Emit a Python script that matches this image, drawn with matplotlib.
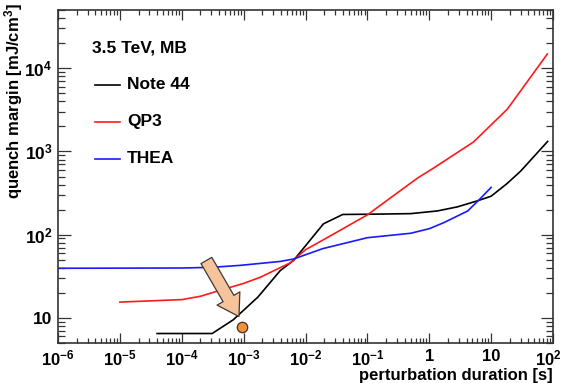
import matplotlib
matplotlib.use('Agg')
import matplotlib.pyplot as plt
import matplotlib.transforms as mtransforms

plt.rcParams['font.family'] = ['Liberation Sans', 'DejaVu Sans']
plt.rcParams['font.weight'] = 'bold'
plt.rcParams['mathtext.fontset'] = 'custom'
plt.rcParams['mathtext.rm'] = 'Liberation Sans:bold'
plt.rcParams['mathtext.bf'] = 'Liberation Sans:bold'
plt.rcParams['mathtext.default'] = 'rm'

# curves (duration in s, margin in mJ/cm3)
note44_x = [4e-5, 3.1e-4, 6.8e-4, 1.7e-3, 3.9e-3, 6.4e-3, 0.0195, 0.04, 0.1, 0.5, 1.36, 2.86, 6.0, 10, 18, 30, 82]
note44_y = [6.5, 6.5, 9.5, 17.8, 37, 49, 135, 175, 176, 179, 193, 216, 255, 290, 410, 580, 1320]

qp3_x = [1e-5, 1e-4, 2e-4, 4.2e-4, 1e-3, 1.86e-3, 5.7e-3, 0.01, 0.019, 0.1, 0.235, 0.65, 1.17, 5.2, 18.4, 81]
qp3_y = [15.5, 16.6, 18.2, 21.5, 26, 30.8, 46, 66, 86, 173, 276, 480, 630, 1300, 3240, 14800]

thea_x = [1e-6, 1e-4, 3e-4, 8.8e-4, 3.9e-3, 6.4e-3, 0.019, 0.1, 0.5, 1.0, 1.7, 4.2, 6.8, 10]
thea_y = [39.5, 39.8, 40.5, 42.8, 47.7, 51, 68, 92, 104, 118, 139, 193, 275, 370]

series_names = ['Note 44', 'QP3', 'THEA']
series_colors = ['black', '#ff1a1a', '#1a1aff']

# arrow and measured point
arrow_from = (2.5e-4, 49)
arrow_to = (8.4e-4, 10.4)
point_x = [9.5e-4]
point_y = [7.8]

x_ticks = [1e-6, 1e-5, 1e-4, 1e-3, 1e-2, 1e-1, 1, 10, 100]
x_ticklabels = ['$10^{-6}$', '$10^{-5}$', '$10^{-4}$', '$10^{-3}$', '$10^{-2}$',
                '$10^{-1}$', '1', '10', '$10^{2}$']
y_ticks = [10, 100, 1000, 10000]
y_ticklabels = ['10', '$10^{2}$', '$10^{3}$', '$10^{4}$']

fig = plt.figure(figsize=(5.63, 3.83), dpi=100)
ax = fig.add_axes([58 / 563, 1 - 343 / 383, 495 / 563, 333 / 383])

for xs, ys, c in zip([note44_x, qp3_x, thea_x], [note44_y, qp3_y, thea_y], series_colors):
    ax.plot(xs, ys, color=c, lw=1.2)

ax.annotate('', xy=arrow_to, xytext=arrow_from,
            arrowprops=dict(arrowstyle='simple,head_width=0.95,head_length=0.75,tail_width=0.45',
                            mutation_scale=20, fc='#f6c39a', ec='#3a3a3a', lw=0.9,
                            shrinkA=0, shrinkB=0))
ax.plot(point_x, point_y, 'o', ms=7.5, mfc='#f0913d', mec='#4a3020', mew=0.9)

ax.set_xscale('log')
ax.set_yscale('log')
ax.set_xlim(1e-6, 100)
ax.set_ylim(5, 50000)
ax.set_xticks(x_ticks)
ax.set_xticklabels(x_ticklabels)
ax.set_yticks(y_ticks)
ax.set_yticklabels(y_ticklabels)

ax.tick_params(which='both', direction='in', top=True, right=True, color='#333333', width=0.9)
ax.tick_params(axis='x', which='major', length=7, pad=4, labelsize=12)
ax.tick_params(axis='x', which='minor', length=3.5)
ax.tick_params(axis='y', which='major', length=9, pad=4, labelsize=12.5)
ax.tick_params(axis='y', which='minor', length=5)
for s in ax.spines.values():
    s.set_color('#333333')
    s.set_linewidth(1.2)

# nudge last x label so it stays inside the figure
last = ax.get_xticklabels()[-1]
last.set_transform(last.get_transform() + mtransforms.ScaledTranslation(-5 / 100, 0, fig.dpi_scale_trans))

ax.set_xlabel('perturbation duration [s]', fontsize=12, fontweight='bold', loc='right')
ax.xaxis.set_label_coords(1.0, -0.075)
ax.set_ylabel('quench margin [mJ/cm$^{3}$]', fontsize=12, fontweight='bold', loc='top')
ax.yaxis.set_label_coords(-0.066, 1.02)

# legend drawn by hand, ROOT style
ax.text(0.069, 0.886, '3.5 TeV, MB', transform=ax.transAxes, fontsize=12.5,
        fontweight='bold', va='center', ha='left')
for i, (name, c) in enumerate(zip(series_names, series_colors)):
    yy = 0.775 - i * 0.1105
    ax.plot([0.075, 0.125], [yy, yy], color=c, lw=1.2, transform=ax.transAxes)
    ax.text(0.139, yy, name, transform=ax.transAxes, fontsize=12.5,
            fontweight='bold', va='center', ha='left')

fig.savefig('out.png', dpi=100)
